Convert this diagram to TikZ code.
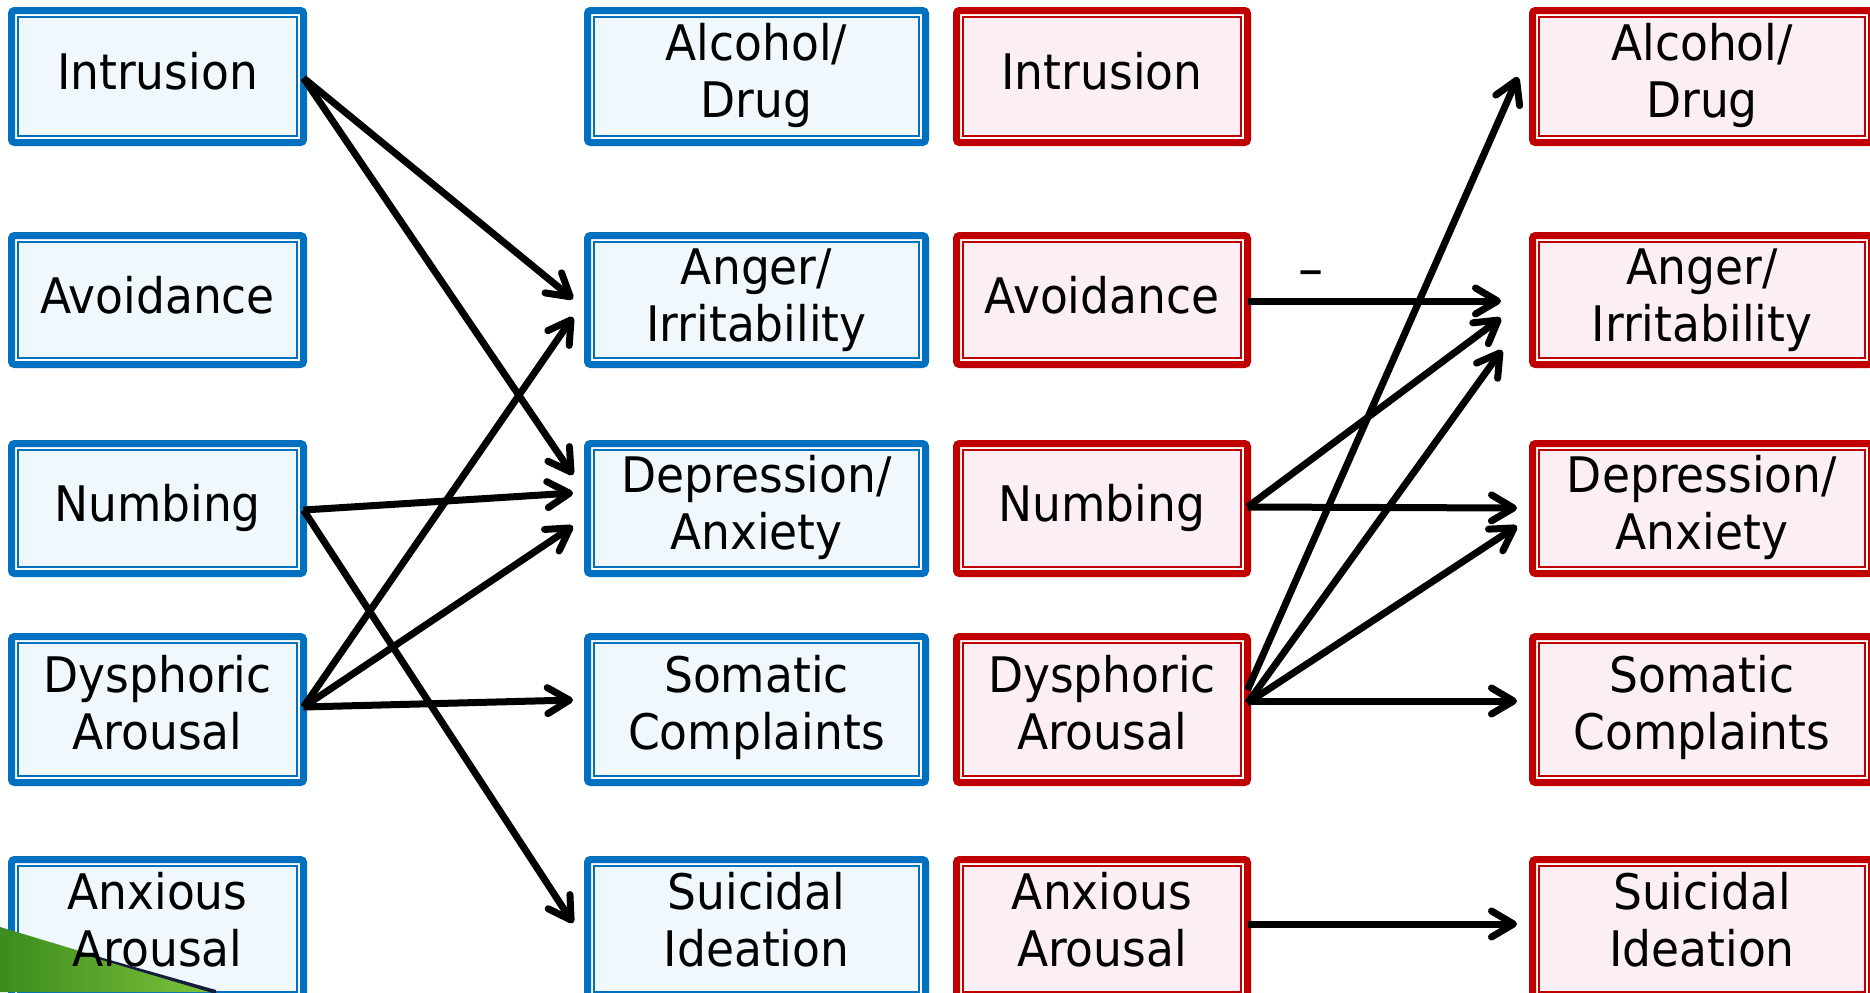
\documentclass[tikz,border=0pt]{standalone}
\usepackage{fontspec}
\setmainfont{DejaVu Sans}[FakeStretch=0.93]
\usetikzlibrary{arrows.meta,calc}

\definecolor{bluec}{RGB}{0,112,192}
\definecolor{bluefill}{RGB}{240,247,253}
\definecolor{redc}{RGB}{192,0,0}
\definecolor{redfill}{RGB}{252,238,245}
\definecolor{leafdark}{RGB}{60,140,30}
\definecolor{leaflight}{RGB}{125,195,60}
\definecolor{navyline}{RGB}{20,30,60}

% strut whose height minus depth equals the cap height, so text is centred on its capitals
\newcommand\tstr{\rule[-0.3em]{0pt}{1.029em}}

\tikzset{
  bluebox/.style={draw=bluec, fill=white, line width=3.5pt, rounded corners=1.5pt, outer sep=0pt, inner sep=0pt},
  blueinner/.style={draw=bluec, fill=bluefill, line width=0.85pt},
  redbox/.style={draw=redc, fill=white, line width=3.5pt, rounded corners=1.5pt, outer sep=0pt, inner sep=0pt},
  redinner/.style={draw=redc, fill=redfill, line width=0.85pt},
  lbl/.style={align=center, inner sep=0pt, font=\fontsize{24.5pt}{28.5pt}\selectfont,
              execute at begin node=\tstr, execute at end node=\tstr},
  arr/.style={draw=black, line width=3.5pt, -{Straight Barb[length=11pt,width=13pt,round]}},
  signlbl/.style={inner sep=0pt, font=\fontsize{27pt}{30pt}\selectfont}
}

% box: name, x, y (px), min width, min height (pt), colour kind
\newcommand\pbox[6]{%
  \node[#6box, minimum width=#4pt, minimum height=#5pt] (#1) at (#2,#3) {};
  \draw[#6inner] ($(#1.south west)+(6.5,-6.5)$) rectangle ($(#1.north east)+(-6.5,6.5)$);
}
% text: name, box, downward offset (px), text
\newcommand\ptext[4]{%
  \node[lbl] (#1) at ($(#2.center)+(0,#3)$) {#4};
}

\begin{document}
\begin{tikzpicture}[x=0.5pt,y=-0.5pt]
\useasboundingbox (0,0) rectangle (1870,992);
\clip (0,0) rectangle (1870,992);

% column 1 (blue)
\pbox{b11}{157.5}{76.5}{146}{66}{blue}
\pbox{b21}{157.5}{300}{146}{64.5}{blue}
\pbox{b31}{157.5}{508.5}{146}{65}{blue}
\pbox{b41}{157.5}{709.5}{146}{73}{blue}
\pbox{b51}{157.5}{929}{146}{69.5}{blue}
% column 2 (blue)
\pbox{b12}{756.5}{76.5}{169}{66}{blue}
\pbox{b22}{756.5}{300}{169}{64.5}{blue}
\pbox{b32}{756.5}{508.5}{169}{65}{blue}
\pbox{b42}{756.5}{709.5}{169}{73}{blue}
\pbox{b52}{756.5}{929}{169}{69.5}{blue}
% column 3 (red)
\pbox{b13}{1102}{76.5}{145.5}{66}{red}
\pbox{b23}{1102}{300}{145.5}{64.5}{red}
\pbox{b33}{1102}{508.5}{145.5}{65}{red}
\pbox{b43}{1102}{709.5}{145.5}{73}{red}
\pbox{b53}{1102}{929}{145.5}{69.5}{red}
% column 4 (red)
\pbox{b14}{1702}{76.5}{169.5}{66}{red}
\pbox{b24}{1702}{300}{169.5}{64.5}{red}
\pbox{b34}{1702}{508.5}{169.5}{65}{red}
\pbox{b44}{1702}{709.5}{169.5}{73}{red}
\pbox{b54}{1702}{929}{169.5}{69.5}{red}

% green corner ornament
\shade[left color=leafdark, right color=leaflight] (0,927) -- (216,992) -- (0,992) -- cycle;
\fill[navyline] (92,955) -- (216,990) -- (216,994) -- (92,957) -- cycle;

% labels
\ptext{t11}{b11}{1.5}{Intrusion}
\ptext{t21}{b21}{2.5}{Avoidance}
\ptext{t31}{b31}{1.5}{Numbing}
\ptext{t41}{b41}{0}{Dysphoric\\Arousal}
\ptext{t51}{b51}{-2.5}{Anxious\\Arousal}
\ptext{t12}{b12}{1.5}{Alcohol/\\Drug}
\ptext{t22}{b22}{2.5}{Anger/\\Irritability}
\ptext{t32}{b32}{1.5}{Depression/\\Anxiety}
\ptext{t42}{b42}{0}{Somatic\\Complaints}
\ptext{t52}{b52}{-2.5}{Suicidal\\Ideation}
\ptext{t13}{b13}{1.5}{Intrusion}
\ptext{t23}{b23}{2.5}{Avoidance}
\ptext{t33}{b33}{1.5}{Numbing}
\ptext{t43}{b43}{0}{Dysphoric\\Arousal}
\ptext{t53}{b53}{-2.5}{Anxious\\Arousal}
\ptext{t14}{b14}{1.5}{Alcohol/\\Drug}
\ptext{t24}{b24}{2.5}{Anger/\\Irritability}
\ptext{t34}{b34}{1.5}{Depression/\\Anxiety}
\ptext{t44}{b44}{0}{Somatic\\Complaints}
\ptext{t54}{b54}{-2.5}{Suicidal\\Ideation}

% paths, blue panel
\draw[arr] ($(b11.east)+(0,1.5)$) -- ($(b22.west)+(-14.5,-1)$);
\draw[arr] ($(b11.east)+(0,1.5)$) -- ($(b32.west)+(-14.5,-33.5)$);
\draw[arr] ($(b31.east)+(0,1.5)$) -- ($(b32.west)+(-14.5,-15.5)$);
\draw[arr] ($(b31.east)+(0,1.5)$) -- ($(b52.west)+(-14.5,-6)$);
\draw[arr] ($(b41.east)+(0,-2.5)$) -- ($(b22.west)+(-14.5,17)$);
\draw[arr] ($(b41.east)+(0,-2.5)$) -- ($(b32.west)+(-14.5,17.5)$);
\draw[arr] ($(b41.east)+(0,-2.5)$) -- ($(b42.west)+(-14.5,-9.5)$);

% paths, red panel
\draw[arr] ($(b23.east)+(0,1)$) -- node[signlbl, pos=0.25, yshift=11pt] (neg) {–} ($(b24.west)+(-31.5,1)$);
\draw[arr] ($(b33.east)+(0,-1.5)$) -- ($(b24.west)+(-31.5,18)$);
\draw[arr] ($(b33.east)+(0,-1.5)$) -- ($(b34.west)+(-15.5,-0.5)$);
\draw[arr] ($(b43.east)+(0,-19.5)$) -- ($(b14.west)+(-14.5,0.5)$);
\draw[arr] ($(b43.east)+(0,-6.5)$) -- ($(b24.west)+(-30.5,50)$);
\draw[arr] ($(b43.east)+(0,-6.5)$) -- ($(b34.west)+(-15.5,17.5)$);
\draw[arr] ($(b43.east)+(0,-8.5)$) -- ($(b44.west)+(-15.5,-8.5)$);
\draw[arr] ($(b53.east)+(0,-5)$) -- ($(b54.west)+(-15.5,-5)$);
\end{tikzpicture}
\end{document}
